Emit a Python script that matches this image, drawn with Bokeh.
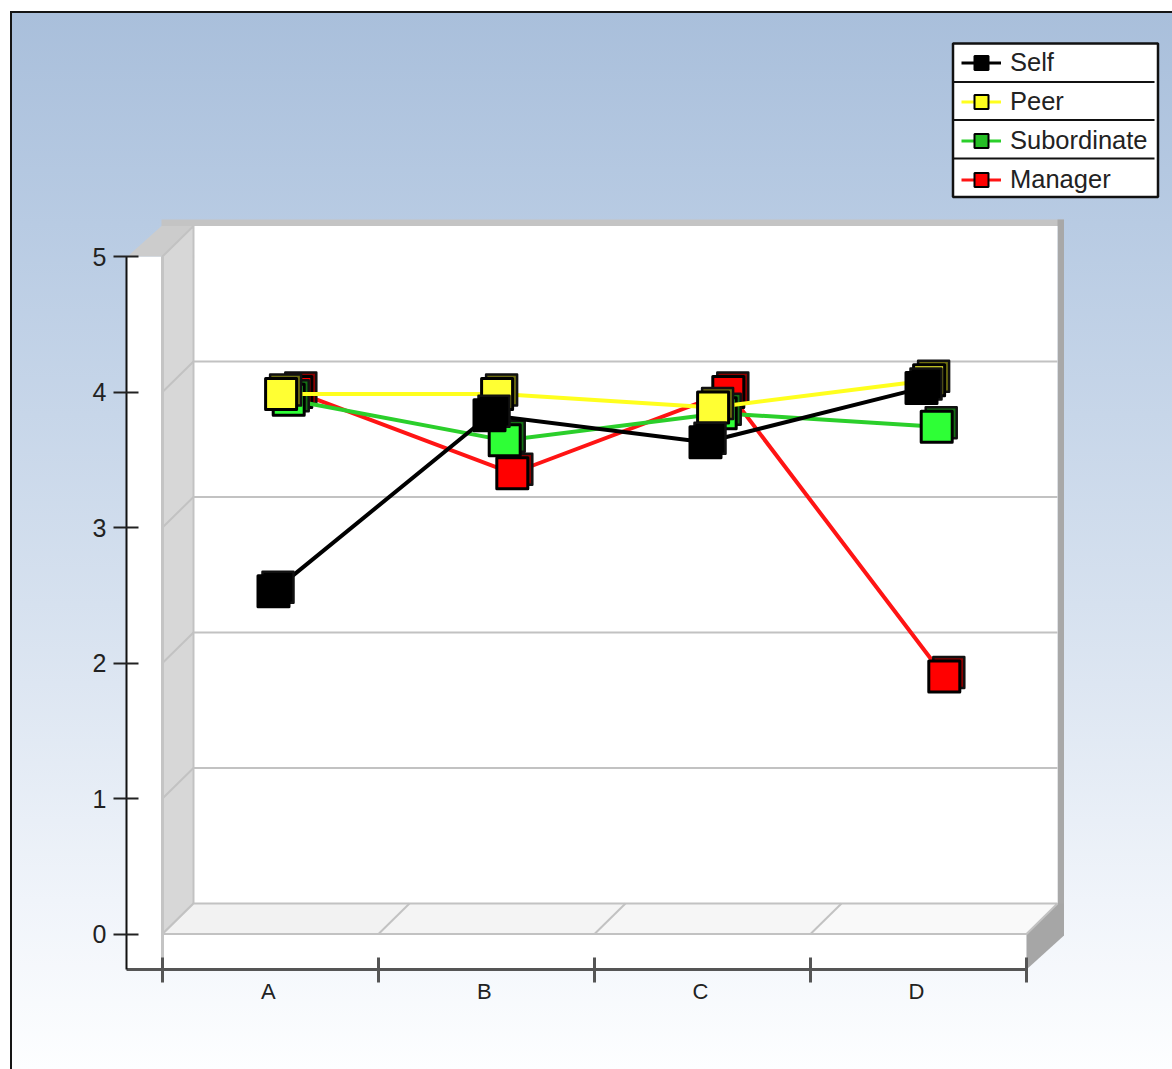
from bokeh.embed import file_html
from bokeh.models import FixedTicker, Legend, LegendItem, Range1d
from bokeh.plotting import figure
from bokeh.resources import INLINE

# ---- chart data -------------------------------------------------------
categories = ["A", "B", "C", "D"]
self_values = [2.5, 3.8, 3.6, 4.0]
peer_values = [3.9, 3.9, 3.8, 4.0]
subordinate_values = [3.8, 3.5, 3.7, 3.6]
manager_values = [3.8, 3.2, 3.8, 1.7]
y_ticks = [0, 1, 2, 3, 4, 5]

FONT = "Liberation Sans"
W, H = 1172, 1069
PX_X, PX_Y = 216.0, 135.5            # pixels per data unit
X0_PAGE, Y0_PAGE = 162.0, 933.5      # page position of data origin


def X(px):
    return (px - X0_PAGE) / PX_X


def Y(py):
    return (Y0_PAGE - py) / PX_Y


DX, DY = 31 / PX_X, 30.5 / PX_Y      # depth of the 3D box

background = ", ".join([
    "linear-gradient(#151515,#151515) 10px 11px / 2px 100% no-repeat",
    "linear-gradient(#151515,#151515) 10px 11px / 100% 2px no-repeat",
    "linear-gradient(180deg,#A9BFDB 0%,#B8CBE3 20%,#D6E1EF 56%,#F0F4FA 84%,#FDFEFF 100%) "
    "12px 13px / calc(100% - 12px) calc(100% - 13px) no-repeat",
])

p = figure(
    width=W, height=H, output_backend="svg", toolbar_location=None,
    x_range=Range1d(X(126), X(1172)), y_range=Range1d(Y(969), Y(0)),
    min_border_left=126, min_border_right=0, min_border_top=0, min_border_bottom=100,
    background_fill_color=None, border_fill_color=None, outline_line_color=None,
    styles={"background": background},
)
p.grid.visible = False

GREY = "#C2C2C2"
n = len(categories)

# ---- 3D box -----------------------------------------------------------
# thick back edge
p.quad(left=X(161), right=X(1063.5), top=Y(219), bottom=Y(226), fill_color="#C4C4C4", line_color=None)
p.quad(left=n + DX, right=X(1063.5), top=Y(219), bottom=Y(935), fill_color="#A8A8A8", line_color=None)
# back wall
p.quad(left=DX, right=n + DX, top=5 + DY, bottom=DY, fill_color="white", line_color=None)
# front strip and plinth
p.quad(left=X(126), right=0, top=5, bottom=Y(969), fill_color="white", line_color=None)
p.quad(left=0, right=n, top=0, bottom=Y(969), fill_color="white", line_color=None)
# top-left wedge
p.patch([X(127), X(161), DX, 0], [5, 5 + DY, 5 + DY, 5], fill_color="#CCCCCC", line_color=None)
# side wall
p.patch([0, DX, DX, 0], [5, 5 + DY, DY, 0], fill_color="#D7D7D7", line_color=GREY, line_width=2)
# floor
for i, c in enumerate(["#F2F2F2", "#F4F4F4", "#F6F6F6", "#F9F9F9"]):
    p.patch([i, i + 1, i + 1 + DX, i + DX], [0, 0, DY, DY], fill_color=c, line_color=None)
# right end of the floor
p.patch([n, n + DX, X(1063.5), X(1063.5), n], [0, DY, DY, Y(935), Y(969)], fill_color="#A6A6A6", line_color=None)
# grid lines on the back and side walls
for v in y_ticks[1:-1]:
    p.line([0, DX, n + DX], [v, v + DY, v + DY], line_color=GREY, line_width=2)
# floor lines
p.line([0, n, n + DX, DX, 0], [0, 0, DY, DY, 0], line_color=GREY, line_width=2)
for i in range(1, n):
    p.line([i, i + DX], [0, DY], line_color=GREY, line_width=2)
p.line([0, 0], [Y(969), 5], line_color="#C4C4C4", line_width=3)

# ---- series, back to front --------------------------------------------
series = [
    ("Manager", manager_values, "#FF1414", "#FF0000", "#8A0000", "#FF0000", 3),
    ("Subordinate", subordinate_values, "#2BCF2B", "#2EFF36", "#157015", "#26BF26", 2),
    ("Peer", peer_values, "#FFFF1E", "#FFFF33", "#6E6E10", "#FFFF1E", 1),
    ("Self", self_values, "#000000", "#000000", "#000000", "#000000", 0),
]
legend_handles = {}
for name, vals, line_c, face_c, back_c, leg_c, k in series:
    ox = (3 + 7.6 * k) / PX_X
    oy = (3.9 + 7.75 * k) / PX_Y
    xs = [i + 0.5 + ox for i in range(n)]
    ys = [v + oy for v in vals]
    p.line(xs, ys, line_color=line_c, line_width=4)
    p.scatter([x + 4.5 / PX_X for x in xs], [y + 4 / PX_Y for y in ys], marker="square", size=31,
              fill_color=back_c, line_color="#111111", line_width=2.5, line_join="round")
    p.scatter(xs, ys, marker="square", size=31,
              fill_color=face_c, line_color="#000000", line_width=3, line_join="round")
    l = p.line(xs, ys, line_color=line_c, line_width=3, visible=False)
    m = p.scatter(xs, ys, marker="square", size=14, fill_color=leg_c, line_color="#000000",
                  line_width=2, visible=False)
    legend_handles[name] = [l, m]

# ---- axes -------------------------------------------------------------
ya = p.yaxis[0]
ya.ticker = FixedTicker(ticks=y_ticks, minor_ticks=[])
ya.bounds = (Y(969), 5)
ya.axis_line_color = "#111111"
ya.axis_line_width = 2
ya.major_tick_line_color = "#222222"
ya.major_tick_line_width = 2
ya.major_tick_in = 12
ya.major_tick_out = 13
ya.major_label_standoff = 7
ya.major_label_text_font = FONT
ya.major_label_text_font_size = "25px"
ya.major_label_text_color = "#222222"

xa = p.xaxis[0]
label_pos = [0.49, 1.49, 2.49, 3.49]
xa.ticker = FixedTicker(ticks=label_pos, minor_ticks=list(range(n + 1)))
xa.major_label_overrides = dict(zip(label_pos, categories))
xa.bounds = (X(126), n)
xa.axis_line_color = "#555555"
xa.axis_line_width = 3
xa.major_tick_line_color = None
xa.major_tick_in = 0
xa.major_tick_out = 0
xa.minor_tick_line_color = "#555555"
xa.minor_tick_line_width = 3
xa.minor_tick_in = 12
xa.minor_tick_out = 13
xa.major_label_standoff = -4
xa.major_label_text_font = FONT
xa.major_label_text_font_size = "22px"
xa.major_label_text_color = "#222222"

# ---- legend -----------------------------------------------------------
p.quad(left=X(952.5), right=X(1157.5), top=Y(43), bottom=Y(196.5), fill_color="white",
       line_color="#111111", line_width=2.5)
for py in (81.5, 119.5, 158):
    p.line([X(953), X(1154)], [Y(py), Y(py)], line_color="#111111", line_width=2)

legend = Legend(
    items=[LegendItem(label=nm, renderers=legend_handles[nm]) for nm in ["Self", "Peer", "Subordinate", "Manager"]],
    location=(835, 772.5), padding=9, margin=0, spacing=4, glyph_width=40, glyph_height=35,
    label_standoff=9, border_line_color=None, background_fill_alpha=0,
    label_text_font=FONT, label_text_font_size="25.5px", label_text_color="#222222",
)
p.add_layout(legend)

open("out.html", "w").write(file_html(p, INLINE))
